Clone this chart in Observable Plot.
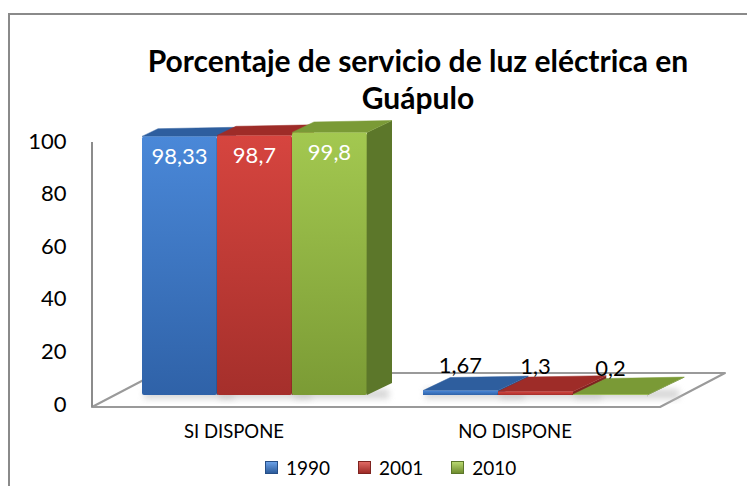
<!DOCTYPE html>
<html>
<head>
<meta charset="utf-8">
<script src="https://cdn.jsdelivr.net/npm/d3@7"></script>
<script src="https://cdn.jsdelivr.net/npm/@observablehq/plot@0.6"></script>
<style>
  html, body { margin: 0; padding: 0; background: #fff; }
  #wrap { position: relative; width: 747px; height: 486px; overflow: hidden; font-family: Lato, "Open Sans", sans-serif; }
  #border { position: absolute; left: 8px; top: 13px; width: 820px; height: 600px; border: 2px solid #8a8a8a; box-sizing: border-box; }
  #title { position: absolute; left: 0; top: 42px; width: 836px; text-align: center; font-weight: 700; font-size: 30px; line-height: 37px; color: #000; }
  #chart { position: absolute; left: 0; top: 0; }
  #legend { position: absolute; top: 456px; left: 265px; display: flex; align-items: center; font-size: 19px; color: #000; }
  .item { display: flex; align-items: center; margin-right: 28px; }
  .sw { width: 13px; height: 13px; margin-right: 8px; box-sizing: border-box; }
</style>
</head>
<body>
<div id="wrap">
  <div id="border"></div>
  <div id="title">Porcentaje de servicio de luz eléctrica en<br>Guápulo</div>
  <div id="chart"></div>
  <div id="legend"></div>
</div>
<script>
// ---- data ----
const categories = ["SI DISPONE", "NO DISPONE"];
const years = ["1990", "2001", "2010"];
const values1990 = [98.33, 1.67];
const values2001 = [98.7, 1.3];
const values2010 = [99.8, 0.2];
const yTicks = [0, 20, 40, 60, 80, 100];

// ---- styles ----
const palette = {
  "1990": { front: ["#4a88d8", "#2f62a8"], top: "#2e5e9e", side: "#264e86", swatch: ["#6aa0e6", "#2d5c9c"] },
  "2001": { front: ["#d6453f", "#a52f2b"], top: "#9e2c28", side: "#7e2320", swatch: ["#e06a64", "#9e2b27"] },
  "2010": { front: ["#a3c850", "#7b9b35"], top: "#7a9a36", side: "#5c772a", swatch: ["#b8d870", "#6f8d2e"] }
};

const series = [values1990, values2001, values2010];
const data = categories.flatMap((c, i) =>
  years.map((y, j) => ({ category: c, year: y, value: series[j][i] }))
);
const fmt = v => String(v).replace(".", ",");

function draw3D(index, scales, values, dimensions) {
  const ns = "http://www.w3.org/2000/svg";
  const g = document.createElementNS(ns, "g");
  const sx = scales.x, sy = scales.y;
  const bw = sx.bandwidth();
  const [xr0, xr1] = sx.range();
  const y0 = sy(0);
  const depth = x => 16 + 0.04 * (x - xr0);
  const ky = 0.48;
  const sel = d3.select(g);

  const defs = sel.append("defs");
  for (const yr of years) {
    const lg = defs.append("linearGradient").attr("id", "gf" + yr).attr("x1", 0).attr("y1", 0).attr("x2", 0).attr("y2", 1);
    lg.append("stop").attr("offset", "0%").attr("stop-color", palette[yr].front[0]);
    lg.append("stop").attr("offset", "100%").attr("stop-color", palette[yr].front[1]);
  }
  defs.append("filter").attr("id", "blur").attr("x", "-20%").attr("y", "-50%").attr("width", "140%").attr("height", "200%")
    .append("feGaussianBlur").attr("stdDeviation", 3);

  // floor
  const fl = xr0 - 50, fr = xr1 + 12, fy = y0 + 12;
  const bdx = 65, bdy = -34;
  sel.append("polygon")
    .attr("points", [[fl, fy], [fr, fy], [fr + bdx, fy + bdy], [fl + bdx, fy + bdy]].map(p => p.join(",")).join(" "))
    .attr("fill", "#fff").attr("stroke", "#9a9a9a").attr("stroke-width", 2).attr("stroke-linejoin", "round");
  // wall edge (y-axis line)
  sel.append("line").attr("x1", fl).attr("x2", fl).attr("y1", fy).attr("y2", sy(100) + 10)
    .attr("stroke", "#8c8c8c").attr("stroke-width", 2);

  const geom = i => {
    const d = data[i];
    const inner = d3.scaleBand(years, [values.x[i], values.x[i] + bw]).padding(0);
    const x1 = inner(d.year), x2 = x1 + inner.bandwidth();
    const yT = Math.min(values.y1[i], values.y2[i]);
    const yB = Math.max(values.y1[i], values.y2[i]);
    return { d, x1, x2, yT, yB };
  };
  const ordered = Array.from(index).sort((a, b) => values.x[a] - values.x[b] || years.indexOf(data[a].year) - years.indexOf(data[b].year));

  // soft shadows on floor
  for (const i of ordered) {
    const { x1, x2, yB } = geom(i);
    sel.append("rect").attr("x", x1 + 2).attr("y", yB - 6).attr("width", x2 - x1 + depth(x2) * 0.8).attr("height", 10)
      .attr("fill", "#c8c8c8").attr("opacity", 0.7).attr("filter", "url(#blur)");
  }

  // bars
  const pts = a => a.map(p => p.join(",")).join(" ");
  for (const i of ordered) {
    const { d, x1, x2, yT, yB } = geom(i);
    const d1 = depth(x1), d2 = depth(x2);
    const pal = palette[d.year];
    sel.append("polygon").attr("points", pts([[x2, yT], [x2 + d2, yT - ky * d2], [x2 + d2, yB - ky * d2], [x2, yB]]))
      .attr("fill", pal.side);
    sel.append("polygon").attr("points", pts([[x1, yT], [x2, yT], [x2 + d2, yT - ky * d2], [x1 + d1, yT - ky * d1]]))
      .attr("fill", pal.top).attr("stroke", pal.top).attr("stroke-width", 0.5).attr("stroke-linejoin", "round");
    sel.append("rect").attr("x", x1).attr("y", yT).attr("width", x2 - x1).attr("height", yB - yT)
      .attr("fill", `url(#gf${d.year})`).attr("rx", yB - yT > 6 ? 2 : 0);
    sel.append("line").attr("x1", x2 - 0.5).attr("x2", x2 - 0.5).attr("y1", yT + 2).attr("y2", yB)
      .attr("stroke", "rgba(0,0,0,0.12)").attr("stroke-width", 1);
  }

  // value labels
  for (const i of ordered) {
    const { d, x1, x2, yT } = geom(i);
    const cx = (x1 + x2) / 2;
    const inside = d.value > 50;
    sel.append("text").attr("x", cx).attr("y", inside ? yT + 20 : yT - 26)
      .attr("dy", "0.36em").attr("text-anchor", "middle")
      .attr("font-size", 22).attr("font-family", "Lato, 'Open Sans', sans-serif")
      .attr("fill", inside ? "#fff" : "#000").text(fmt(d.value));
  }
  return g;
}

const plot = Plot.plot({
  width: 747,
  height: 486,
  marginLeft: 142,
  marginRight: 99,
  marginTop: 132,
  marginBottom: 91,
  style: { fontFamily: "Lato, 'Open Sans', sans-serif", background: "transparent", overflow: "visible" },
  x: { domain: categories, paddingInner: 0.2, paddingOuter: 0, axis: null },
  y: { domain: [0, 100], axis: null },
  marks: [
    Plot.barY(data, { x: "category", y1: 0, y2: "value", render: draw3D }),
    Plot.axisY({ ticks: yTicks, tickSize: 0, tickPadding: 76, dy: 9, fontSize: 22, tickFormat: d => String(d), color: "#000", label: null }),
    Plot.axisX({ tickSize: 0, tickPadding: 29, dx: -21, fontSize: 18.5, color: "#000", label: null })
  ]
});
document.getElementById("chart").appendChild(plot);

// legend
const legend = document.getElementById("legend");
for (const yr of years) {
  const it = document.createElement("div");
  it.className = "item";
  const sw = document.createElement("div");
  sw.className = "sw";
  sw.style.background = `linear-gradient(${palette[yr].swatch[0]}, ${palette[yr].swatch[1]})`;
  sw.style.border = `1px solid ${palette[yr].side}`;
  const tx = document.createElement("span");
  tx.textContent = yr;
  it.appendChild(sw); it.appendChild(tx);
  legend.appendChild(it);
}
</script>
</body>
</html>
